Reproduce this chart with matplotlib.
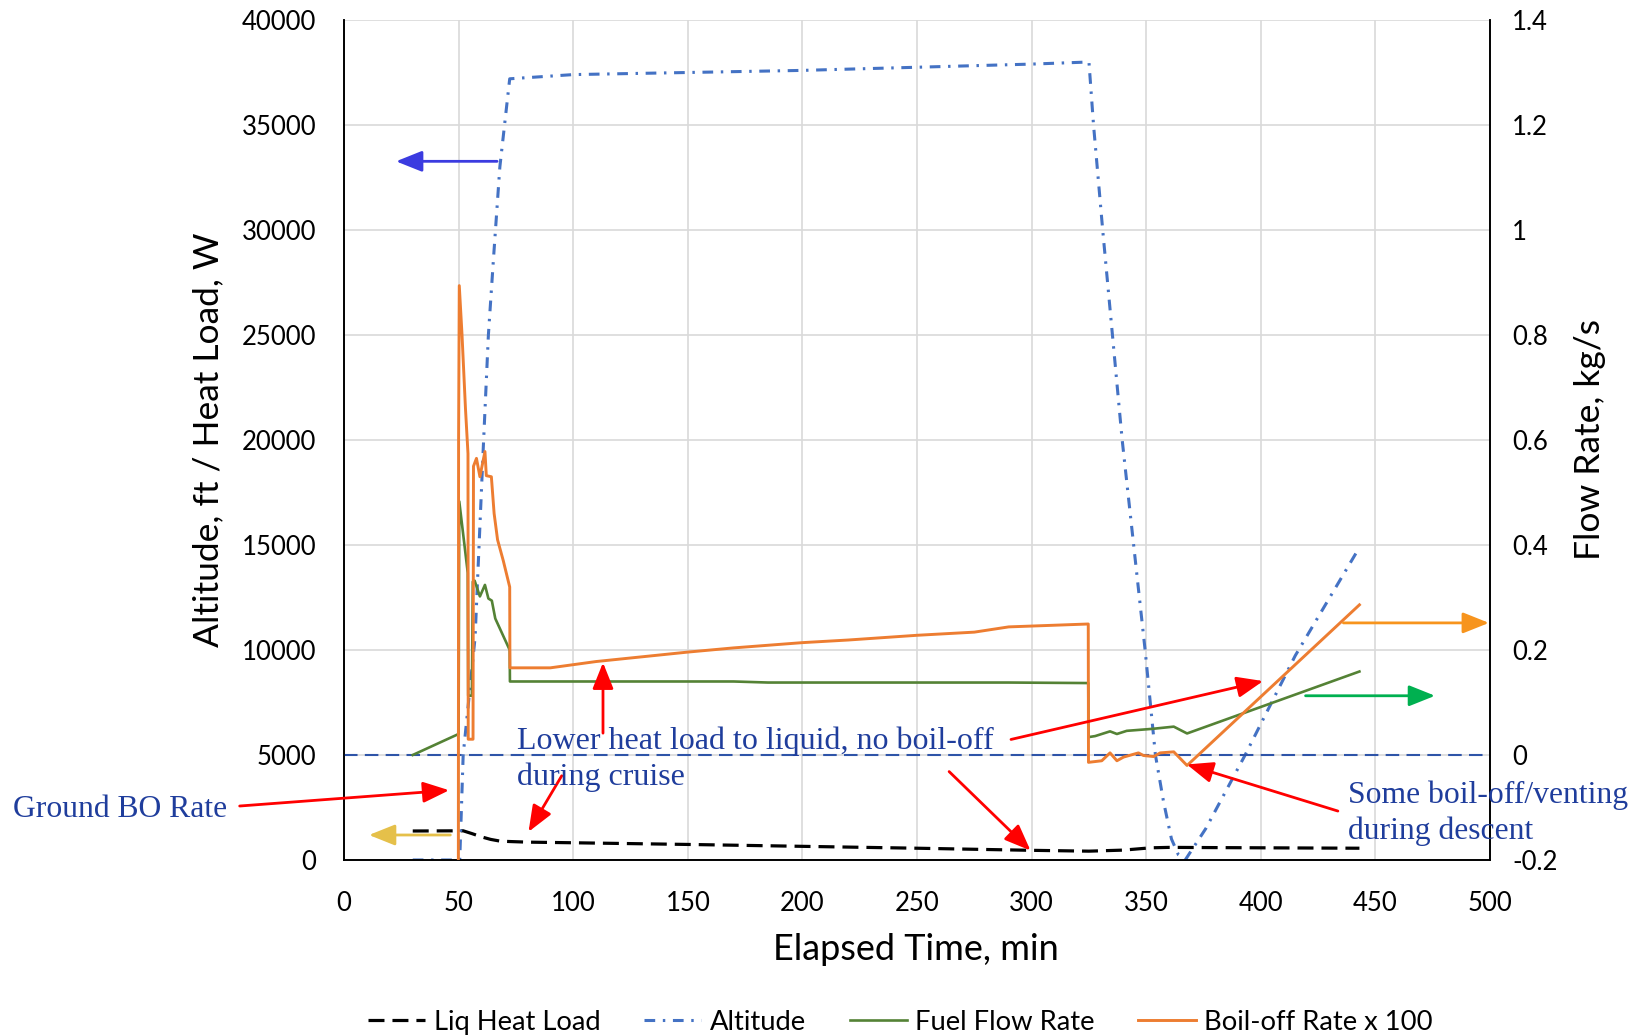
import matplotlib
matplotlib.use("Agg")
import matplotlib.pyplot as plt
from matplotlib.ticker import FuncFormatter

plt.rcParams['axes.unicode_minus'] = False

# Liq Heat Load, W (left axis)
t_heat = [30, 52, 56, 60, 64, 68, 72, 80, 100, 150, 200, 250, 300, 325, 340, 352, 360, 400, 443]
heat_load = [1380, 1390, 1250, 1100, 980, 900, 880, 850, 820, 740, 650, 560, 460, 420, 470, 580, 600, 580, 560]

# Altitude, ft (left axis)
t_alt = [30, 50.5, 52, 57.2, 60.8, 63, 65.2, 68, 72.3, 100, 150, 200, 250, 300, 325,
         327, 331, 339.5, 349.5, 354, 357.5, 361, 364, 367, 376, 393, 415, 442]
altitude = [0, 0, 5000, 10600, 19700, 25000, 28600, 33000, 37200, 37400, 37500, 37600, 37750, 37900, 38000,
            35000, 30000, 20000, 10000, 5000, 2800, 1000, 250, 0, 1500, 4970, 9730, 14700]

# Fuel Flow Rate, kg/s (right axis)
t_fuel = [30, 50, 50.3, 54, 54.2, 55.8, 56.2, 57, 59.3, 61.5, 63, 64.5, 66, 72.3, 72.4,
          170, 185, 290, 324.7, 324.8, 327.7, 334.2, 337.2, 341.5, 347.4, 353.2, 362, 367.8, 443]
fuel_flow = [0.0, 0.04, 0.483, 0.347, 0.113, 0.113, 0.33, 0.332, 0.302, 0.324, 0.298, 0.294, 0.26, 0.2, 0.14,
             0.14, 0.138, 0.138, 0.137, 0.034, 0.036, 0.045, 0.040, 0.046, 0.048, 0.050, 0.054, 0.041, 0.159]

# Boil-off Rate x 100, kg/s (right axis)
t_bo = [49.9, 50.0, 50.3, 51.5, 53, 54.1, 54.2, 56.3, 56.5, 57.8, 59.3, 61.5, 62.1, 64.3, 65.5, 67, 69.5, 72.3, 72.4,
        90, 110, 150, 170, 200, 220, 250, 275, 290, 324.7, 324.8, 330.6, 334.2, 337.2, 340.1, 346.6, 348.8,
        353.2, 356.1, 362, 367.8, 443]
boil_off = [-0.2, 0.6, 0.894, 0.80, 0.66, 0.574, 0.03, 0.03, 0.55, 0.565, 0.53, 0.578, 0.532, 0.53, 0.46, 0.41, 0.37, 0.32, 0.166,
            0.166, 0.178, 0.196, 0.204, 0.214, 0.219, 0.228, 0.234, 0.244, 0.2495, -0.014, -0.011, 0.004, -0.011, -0.004, 0.004, -0.001,
            -0.003, 0.004, 0.006, -0.02, 0.286]

TXT = '#1F3D9C'
RED = '#FF0000'

fig = plt.figure(figsize=(16.31, 10.36), dpi=100)
ax = fig.add_axes([0.2109, 0.1699, 0.7027, 0.8108])
ax2 = ax.twinx()

ax.plot(t_heat, heat_load, color='black', lw=2.3, dashes=[5, 2.5], label='Liq Heat Load')
ax.plot(t_alt, altitude, color='#4472C4', lw=2.2, dashes=[3.5, 2.5, 0.8, 2.5], label='Altitude')
ax2.axhline(0, color='#2E54A8', lw=1.5, dashes=[6.5, 3.5], zorder=1)
ax2.plot(t_fuel, fuel_flow, color='#548235', lw=1.9, label='Fuel Flow Rate', zorder=2)
ax2.plot(t_bo, boil_off, color='#ED7D31', lw=2.1, label='Boil-off Rate x 100', zorder=3)

ax.set_xlim(0, 500)
ax.set_ylim(0, 40000)
ax2.set_ylim(-0.2, 1.4)
ax.set_xticks(range(0, 501, 50))
ax.set_yticks(range(0, 40001, 5000))
ax2.set_yticks([-0.2, 0, 0.2, 0.4, 0.6, 0.8, 1.0, 1.2, 1.4])
ax2.yaxis.set_major_formatter(FuncFormatter(lambda v, p: f"{round(v, 2):g}"))

ax.grid(True, color='#D9D9D9', lw=1.2)
ax.set_axisbelow(True)
for a in (ax, ax2):
    a.spines['top'].set_visible(False)
    for s in ('left', 'right', 'bottom'):
        a.spines[s].set_color('black')
        a.spines[s].set_linewidth(1.2)

fnt = 'Lato'
ax.tick_params(axis='both', length=0, labelsize=18.5, labelfontfamily=fnt)
ax.tick_params(axis='y', pad=20)
ax.tick_params(axis='x', pad=22)
ax2.tick_params(axis='y', length=0, labelsize=18.5, labelfontfamily=fnt, pad=16)

ax.set_xlabel('Elapsed Time, min', fontsize=26, family=fnt, va='center')
ax.xaxis.set_label_coords(0.499, -0.106)
ax.set_ylabel('Altitude, ft / Heat Load, W', fontsize=25.5, family=fnt, va='center')
ax.yaxis.set_label_coords(-0.118, 0.5)
ax2.set_ylabel('Flow Rate, kg/s', fontsize=25.5, family=fnt, va='center')
ax2.yaxis.set_label_coords(1.087, 0.5)


def fleche(x0, y0, x1, y1, color):
    ax2.annotate('', xy=(x1, y1), xytext=(x0, y0), xycoords=ax.transData, textcoords=ax.transData,
                 annotation_clip=False, zorder=6,
                 arrowprops=dict(arrowstyle='-|>,head_length=0.8,head_width=0.32', mutation_scale=20,
                                 lw=2.0, color=color, shrinkA=0, shrinkB=0))


# fleches d'axes
fleche(66.8, 33270, 22.7, 33270, '#3B3BE0')
fleche(46.4, 1190, 10.9, 1190, '#E5C04A')
fleche(436, 11290, 499.5, 11290, '#F7941D')
fleche(419.5, 7820, 476, 7820, '#00B050')

# fleches rouges
fleche(-45.5, 2570, 45.9, 3320, RED)
fleche(113, 6040, 113, 9400, RED)
fleche(95, 4010, 80.5, 1340, RED)
fleche(264, 4210, 299.5, 450, RED)
fleche(291, 5740, 401, 8520, RED)
fleche(433.6, 2330, 367.7, 4550, RED)

ser = 'Liberation Serif'
ax2.text(-144.6, 2426, 'Ground BO Rate', transform=ax.transData, fontsize=22.8, family=ser, color=TXT,
         ha='left', va='center', clip_on=False, zorder=7)
ax2.text(75.5, 4790, 'Lower heat load to liquid, no boil-off\nduring cruise', transform=ax.transData,
         fontsize=23, family=ser, color=TXT, ha='left', va='center', linespacing=1.28, clip_on=False, zorder=7)
ax2.text(438, 2220, 'Some boil-off/venting\nduring descent', transform=ax.transData,
         fontsize=22.8, family=ser, color=TXT, ha='left', va='center', linespacing=1.28, clip_on=False, zorder=7)

h1, l1 = ax.get_legend_handles_labels()
h2, l2 = ax2.get_legend_handles_labels()
fig.legend(h1 + h2, l1 + l2, loc='center', bbox_to_anchor=(0.552, 0.0135), ncol=4, frameon=False,
           prop={'family': fnt, 'size': 19.7}, handlelength=2.1, handletextpad=0.3, columnspacing=1.6)

fig.savefig('out.png', dpi=100)
